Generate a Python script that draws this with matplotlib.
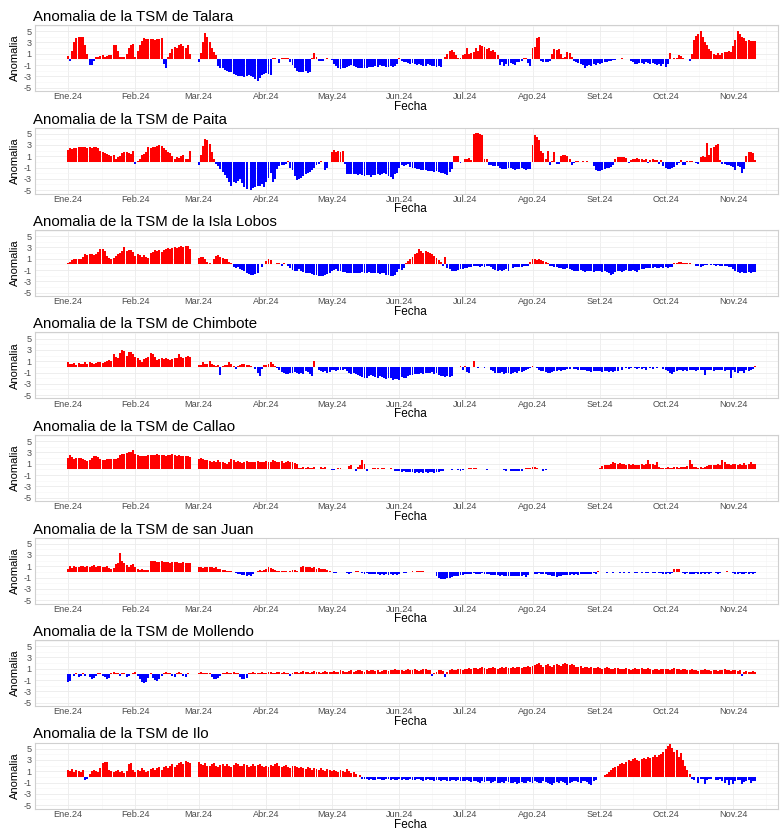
import numpy as np
import pandas as pd
import matplotlib
matplotlib.use("Agg")
import matplotlib.pyplot as plt

plt.rcParams["font.family"] = ["Liberation Sans", "DejaVu Sans"]

# fechas diarias y etiquetas de mes
fechas = pd.date_range("2024-01-01", "2024-11-11", freq="D")
meses = pd.date_range("2024-01-01", "2024-11-01", freq="MS")
etiquetas_mes = ["Ene.24", "Feb.24", "Mar.24", "Abr.24", "May.24", "Jun.24",
                 "Jul.24", "Ago.24", "Set.24", "Oct.24", "Nov.24"]
dias_mes = [31, 29, 31, 30, 31, 30, 31, 31, 30, 31, 11]
y_ticks = [5, 3, 1, -1, -3, -5]
y_labels = ["5", "3", "1", "-1", "-3", "-5"]

# anomalias diarias, un texto por mes ("." = sin dato)
talara = [
    "0.6 -0.3 1.5 3.0 3.8 4.0 4.0 3.9 2.5 1.0 -1.0 -1.0 -0.2 0.4 0.5 0.6 0.7 0.5 0.6 0.7 0.8 2.6 2.5 1.5 0.4 0.4 0.5 1.0 2.0 2.6 2.8",
    "0.5 1.5 2.5 3.3 3.8 3.6 3.7 3.7 3.7 3.5 3.7 3.6 3.8 -0.8 -1.6 0.5 1.2 1.8 2.2 2.0 2.5 2.8 2.3 2.1 2.5 1.0 . . .",
    "-0.4 1.2 3.0 4.6 4.0 3.0 2.0 1.3 0.8 -1.2 -1.5 -1.6 -1.8 -2.0 -2.2 -2.3 -2.5 -2.7 -2.9 -3.0 -3.0 -3.1 -3.0 -2.8 -2.9 -3.2 -3.5 -3.8 -3.3 -2.8 -2.5",
    "-2.4 -2.6 -2.8 0.2 0.2 0.1 -0.6 0.2 0.3 0.2 0.2 -0.5 -1.0 -1.5 -2.0 -2.3 -2.3 -2.2 -2.0 -2.4 -2.2 0.3 1.2 0.5 -0.3 -0.3 -0.2 . 0.3 .",
    "-0.1 -0.8 -1.2 -1.5 -1.7 -1.6 -1.5 -1.3 -1.1 -1.0 -1.2 -1.4 -1.5 -1.6 -1.5 -1.6 -1.5 -1.4 -1.3 -1.3 -1.2 -1.4 -1.0 -1.1 -1.2 -1.3 -1.3 -1.2 -1.3 -1.2 -0.9",
    "0.2 -0.3 -0.5 -0.4 -0.6 -0.8 -0.7 -0.9 -1.0 -0.8 -1.0 -1.1 -1.2 -0.9 -1.0 -1.1 -1.2 -1.3 -1.2 -1.3 . 0.5 1.0 1.5 1.6 1.3 0.8 0.2 0.3 0.8",
    "0.9 2.0 1.0 1.1 1.3 2.0 1.5 2.6 2.4 2.2 1.8 2.0 1.5 1.7 1.3 0.8 -1.0 -0.5 -1.1 -0.8 -1.2 -0.6 -0.9 -1.0 -0.4 -0.5 -0.3 0.3 0.2 -0.6 -1.2",
    "2.0 2.2 3.8 4.0 -0.3 -0.4 -0.4 -0.4 -0.3 1.0 1.9 1.6 1.8 0.9 0.2 0.5 1.3 1.2 0.4 -0.2 -0.5 -0.6 -0.8 -1.0 -1.5 -1.2 -1.0 -1.1 -0.9 -1.0 -0.7",
    "-0.8 -0.6 -0.5 -0.4 -0.3 -0.2 -0.1 -0.1 . 0.1 0.2 0.1 0.1 . -0.2 -0.5 -0.8 -0.9 -0.7 -0.6 -0.8 -0.5 -0.6 -0.8 -0.7 -0.9 -1.0 -0.8 -1.2 -0.9",
    "-1.3 -0.8 1.2 . 0.2 0.3 0.7 0.6 0.3 . . -0.2 1.0 3.5 4.2 4.5 5.0 4.0 3.0 2.5 1.8 1.5 1.0 0.8 1.2 0.8 1.2 1.4 1.3 1.5 1.4",
    "2.3 3.5 5.0 4.5 4.0 3.8 3.3 3.4 3.2 3.3 3.2",
]
paita = [
    "2.2 2.4 2.3 2.5 2.4 2.6 2.6 2.7 2.6 2.5 2.6 2.5 2.7 2.6 2.4 2.0 1.8 1.6 1.4 1.2 1.0 1.3 0.6 0.8 1.0 1.6 1.8 1.7 1.5 1.4 1.9",
    "-0.3 0.2 0.6 1.2 1.4 1.8 2.7 2.4 2.6 2.7 2.9 3.0 2.9 2.5 2.2 1.8 1.5 1.1 0.5 0.8 0.7 1.0 1.2 0.6 0.5 1.9 . . .",
    "-0.6 1.2 2.8 4.0 3.8 3.2 1.8 0.5 -0.4 -0.8 -1.2 -1.8 -2.3 -2.8 -3.6 -4.2 -3.5 -3.8 -3.3 -3.0 -3.8 -4.5 -4.8 . -4.9 -4.7 -4.5 -4.3 -4.2 -4.0 -4.4",
    "-3.5 -2.8 -2.0 -3.5 -3.0 -1.2 -0.8 -0.6 -0.5 -0.3 0.2 -1.0 -1.5 -2.5 -3.2 -3.0 -2.8 -2.5 -2.2 -2.0 -1.8 -1.5 -1.0 -0.5 -0.3 0.2 . -1.5 -1.0 .",
    "1.8 2.2 1.8 2.0 1.7 2.0 -0.3 -2.1 -2.1 -2.2 -2.1 -2.2 -2.3 -2.2 -2.4 -2.5 -2.3 -2.4 -2.6 -2.4 -2.3 -2.2 -2.3 -2.1 -2.0 -2.2 -2.5 -2.6 -3.0 -2.2 -2.0",
    "-1.0 -0.6 -0.8 -0.5 -0.4 -0.9 -1.0 -1.1 -1.2 -1.3 -1.4 -1.5 -1.5 -1.6 -1.6 -1.6 -1.7 -1.6 -1.8 -1.9 -2.0 -2.2 -2.3 -1.8 -1.2 1.1 1.0 1.1 -0.2 .",
    "0.6 0.5 0.7 0.4 5.0 5.1 5.1 5.0 4.8 0.6 0.5 -0.5 -0.6 -0.7 -0.8 -0.8 -1.0 -1.3 -1.2 -1.3 -1.1 -1.0 -1.2 -1.4 -1.3 -1.2 -1.1 -1.3 -1.4 -1.2 -1.3",
    "3.0 4.8 4.5 3.8 1.9 1.5 0.5 1.9 -0.6 0.1 1.7 -0.3 -0.4 1.0 1.2 1.2 1.1 0.6 -0.5 -0.2 0.2 0.1 -0.1 0.2 . 0.2 . . -0.8 -1.5 -1.6",
    "-1.6 -1.5 -1.2 -1.0 -1.1 -0.9 -0.6 0.5 0.9 0.9 0.8 0.9 0.7 -0.2 0.3 0.5 0.6 0.7 0.5 0.6 0.4 0.5 -0.2 0.4 0.5 0.3 0.3 -0.3 0.4 -0.8",
    "-1.0 -1.2 -1.3 -1.1 -0.9 -0.5 -0.2 0.3 -0.6 -0.5 0.2 0.1 0.2 . -0.2 -0.3 0.9 1.0 0.9 3.3 1.2 2.5 2.7 3.0 3.1 0.4 -0.3 -0.4 -0.5 -0.6 -0.8",
    "-0.9 -1.5 -0.8 -0.9 -1.9 -1.2 1.0 1.8 1.8 1.5 0.3",
]
isla_lobos = [
    "0.3 0.4 0.8 1.0 0.9 1.0 1.0 1.3 1.8 1.7 1.9 1.8 1.6 1.9 2.2 2.8 2.7 2.3 1.5 1.1 1.0 1.2 1.5 1.9 2.0 2.3 3.1 2.4 2.5 2.6 2.2",
    "1.5 1.8 1.6 1.4 1.6 1.3 1.1 2.0 2.2 2.5 2.4 2.5 2.2 2.6 2.8 2.9 2.8 2.9 3.0 2.9 3.1 3.2 3.0 3.3 3.3 2.8 . . .",
    "1.2 1.4 1.3 0.9 0.5 0.2 . 1.0 1.5 1.6 1.3 1.2 1.0 0.9 0.5 0.2 -0.5 -0.6 -0.4 -0.8 -1.0 -1.2 -1.5 -1.7 -1.8 -1.8 -1.7 -1.6 . -0.4 .",
    "0.6 0.9 0.8 . 0.1 0.3 0.2 -0.3 0.2 0.1 -0.3 -0.6 -1.0 -1.2 -1.1 -0.9 -1.1 -1.3 -1.5 -1.6 -1.6 -1.7 -1.8 -1.9 -2.0 -2.1 -2.1 -1.9 -1.7 -1.5",
    "-1.2 -1.0 -0.9 -1.1 -1.2 -1.3 -1.4 -1.5 -1.5 -1.6 -1.5 -1.5 -1.6 -1.5 -1.4 -1.5 -1.5 -1.4 -1.5 -1.6 -1.5 -1.6 -1.7 -1.6 -1.6 -1.8 -1.9 -2.0 -2.0 -1.9 -1.4",
    "-0.9 -1.0 -0.6 0.3 0.6 0.9 1.3 1.8 2.0 2.7 2.4 2.0 2.3 2.2 2.1 1.8 1.5 1.2 0.8 0.4 -0.2 1.3 -0.6 -0.9 -1.1 -1.2 -1.1 -1.0 -0.9 -0.8",
    "-0.7 -0.6 -0.5 -0.4 -0.3 -0.3 -0.3 -0.4 -0.3 -0.5 -0.3 -0.2 -0.4 -0.9 -1.0 -1.1 -1.0 -1.1 -1.0 -0.9 -1.1 . -0.6 -0.5 -0.4 -0.5 -0.4 -0.3 -0.2 -0.3 0.5",
    "0.9 1.0 0.8 0.9 0.7 0.6 0.4 0.2 -0.2 -0.3 -0.4 -0.5 -0.6 -0.7 -0.8 -0.8 -0.7 -0.9 -1.0 -1.1 -1.2 -1.1 -1.0 -1.2 -1.3 -1.2 -1.1 -1.2 -1.3 -1.1 -1.2",
    "-1.2 -1.3 -1.2 -1.4 -1.6 -1.8 -1.7 -1.3 -1.2 -1.1 -1.3 -1.2 -1.0 -1.1 -1.2 -1.0 -1.1 -1.3 -1.0 -0.9 -0.8 -0.7 -0.6 -0.6 -0.7 -0.5 -0.6 -0.6 -0.5 -0.6",
    "-0.5 -0.6 -0.5 -0.4 0.2 0.3 0.4 0.4 0.3 0.3 0.2 0.2 0.1 . -0.2 -0.3 -0.5 -0.3 -0.1 -0.1 0.1 -0.1 -0.1 -0.2 -0.1 -0.2 -0.2 -0.3 -0.3 -0.4 -0.4",
    "-0.8 -1.2 -1.3 -1.5 -1.4 -1.6 -1.5 -1.4 -1.5 -1.3 -1.4",
]
chimbote = [
    "0.9 0.6 0.5 0.7 0.4 0.7 0.5 0.5 0.8 0.6 0.9 0.7 0.6 0.7 0.9 0.8 0.7 0.9 1.0 1.2 1.0 2.2 1.8 1.6 2.5 3.0 2.9 2.0 2.7 2.6 2.2",
    "1.8 1.5 1.2 0.9 1.4 1.5 1.8 2.5 2.2 1.8 1.3 1.4 1.5 1.4 1.5 1.4 1.3 1.4 1.5 1.6 2.3 1.7 1.5 1.8 2.0 1.7 . . .",
    "0.3 0.3 0.9 0.5 0.6 1.0 0.5 0.3 0.2 0.3 -1.5 0.2 0.4 0.4 0.8 0.6 0.2 -0.3 0.1 0.4 0.5 0.5 0.4 0.3 0.1 -0.1 -0.4 -1.0 -1.7 -0.3 0.3",
    "0.4 0.6 0.8 0.5 0.1 -0.2 -0.6 -0.9 -1.1 -1.3 -1.2 -1.0 -1.1 -0.9 -1.0 -1.2 -1.1 -1.3 -0.8 -0.9 -1.2 -1.7 1.0 . -0.6 -0.8 -0.9 -0.8 -1.0 -0.9",
    "-0.5 -0.6 -0.7 -0.5 -0.6 -0.5 -0.4 -0.8 -1.0 -1.2 -1.1 -1.3 -1.5 -1.6 -1.8 -2.0 -1.9 -1.7 -1.5 -1.6 -1.8 -1.9 -1.7 -1.8 -2.0 -2.1 -1.9 -2.0 -2.3 -2.1 -2.2",
    "-2.3 -1.8 -2.0 -1.9 -1.6 -1.5 -1.4 -1.2 -1.3 -1.2 -1.1 -1.2 -1.0 -1.1 -1.0 -0.9 -1.2 -1.0 -1.4 -1.6 -1.7 -1.8 -1.7 -1.8 -1.6 . -0.1 . 0.2 -0.6",
    "0.2 -0.9 -1.0 . 1.0 . -0.2 -0.1 . -0.2 . . -0.5 -0.8 -1.0 -1.1 -1.0 -0.9 -1.2 -1.0 -1.1 -1.2 -1.1 -0.9 -1.0 -0.8 -0.9 -0.7 -0.6 -0.3 -0.2",
    "0.1 -0.1 -0.2 -0.5 -0.7 -0.8 -0.9 -1.0 -1.1 -0.9 -0.8 -0.7 -0.6 -0.7 -0.6 -0.5 -0.4 -0.3 . -0.3 -0.4 -0.5 -0.6 -0.5 -0.6 -0.7 -0.8 -0.9 -0.8 -0.7 -0.8",
    "-0.8 -0.9 -0.8 -0.7 -0.9 -0.8 -0.9 -0.7 -0.8 . -0.5 . -0.2 -0.3 -0.2 . -0.2 -0.3 -0.2 -0.3 -0.2 -0.5 . -0.2 -0.3 . -0.2 . . -0.3",
    "-0.6 -0.8 -1.0 -1.2 -0.9 -0.8 -0.5 -0.6 -0.7 -0.6 -0.7 -0.6 -0.5 -0.6 -0.7 -0.6 -0.5 -0.6 -1.4 -0.6 -0.5 -0.6 -0.7 -0.6 -0.5 -0.6 -0.5 -0.7 -0.6 -0.5 -2.0",
    "-0.6 -0.9 -1.0 -0.8 -0.7 -1.1 -0.6 -0.8 -0.5 -0.4 0.1",
]
callao = [
    "2.0 2.6 2.2 1.8 2.0 2.1 2.0 1.8 1.6 1.5 1.7 2.1 2.3 2.4 2.2 1.8 1.6 1.7 1.8 1.8 1.9 1.9 1.8 2.0 2.5 2.7 2.7 2.9 3.0 3.1 3.4",
    "2.7 2.5 2.4 2.3 2.3 2.4 2.5 2.5 2.6 2.6 2.7 2.6 2.5 2.6 2.4 2.5 2.6 2.7 2.6 2.4 2.5 2.3 2.4 2.3 2.4 2.2 . . .",
    "1.9 2.1 1.8 1.7 1.6 1.5 1.4 1.5 1.3 1.6 1.4 1.3 1.2 1.0 1.3 1.9 1.6 1.3 1.5 1.4 1.2 1.3 1.5 1.4 1.3 1.4 1.3 1.5 1.4 1.3 1.4",
    "1.5 1.3 1.4 1.6 1.5 1.3 1.4 1.5 1.2 1.4 1.5 1.3 1.4 1.2 1.0 0.3 0.2 0.4 0.2 0.5 0.3 0.2 0.4 0.1 . 0.4 0.3 0.4 . 0.1",
    "-0.1 -0.1 . 0.2 0.3 . 0.1 0.1 0.6 0.7 . -0.2 0.4 0.8 1.6 1.0 -0.2 . . 0.2 0.3 0.3 . 0.2 0.2 . . 0.2 . -0.2 -0.3",
    "-0.3 -0.4 -0.3 -0.4 -0.5 -0.4 -0.5 -0.6 -0.5 -0.6 -0.5 -0.6 -0.5 -0.6 -0.5 -0.4 -0.6 -0.5 -0.4 -0.3 -0.2 . 0.1 . -0.1 0.1 . -0.1 -0.2 -0.1",
    "0.1 . 0.3 0.3 0.2 0.3 0.1 . 0.1 . -0.1 0.1 . 0.1 0.1 . 0.1 . -0.1 -0.2 . -0.2 -0.3 -0.3 -0.2 -0.3 -0.2 0.1 0.2 0.3 0.3",
    "0.4 0.4 0.3 . . -0.2 -0.1 . 0.1 . 0.1 . 0.1 0.1 . . 0.1 . 0.1 0.1 . 0.1 0.1 . 0.1 . . 0.1 . . 0.1",
    "0.2 0.6 0.8 0.7 0.8 0.9 1.3 1.2 1.0 1.1 1.0 0.9 0.8 1.0 0.8 0.9 0.8 0.7 0.8 0.9 0.8 1.0 1.6 0.9 1.0 0.8 1.4 0.4 0.3 0.2",
    "0.3 0.4 0.3 0.3 0.4 0.5 0.3 0.4 0.5 0.4 0.6 1.6 0.9 0.5 0.4 0.3 0.4 0.3 0.5 0.6 0.7 0.8 0.7 0.8 0.9 0.8 1.7 1.3 1.0 0.9 0.8",
    "0.9 1.0 0.8 0.9 0.7 1.2 0.8 0.9 1.3 1.0 0.9",
]
san_juan = [
    "0.5 1.0 0.7 1.1 0.8 0.9 1.0 1.1 0.9 1.0 0.8 1.1 1.3 0.8 1.0 1.1 0.9 0.8 1.0 0.7 0.6 0.7 1.4 1.5 3.3 2.0 1.5 1.2 0.8 1.3 1.4",
    "0.8 0.5 0.4 0.6 0.3 0.3 0.4 1.9 2.0 1.9 1.8 1.7 1.9 1.8 1.7 1.8 1.6 1.7 1.8 1.7 1.5 1.6 1.7 1.6 1.5 1.6 . . .",
    "0.8 0.9 0.7 0.8 0.9 0.8 0.9 0.7 0.8 0.6 0.5 0.4 0.3 0.2 0.1 0.1 . -0.2 -0.3 -0.4 -0.5 -0.6 -0.7 -0.6 -0.7 -0.3 . 0.2 0.3 0.2 0.3",
    "0.6 0.8 0.7 0.5 0.3 0.2 0.2 0.1 0.2 0.1 . 0.1 0.3 0.3 0.2 . 0.8 1.0 0.9 0.8 0.9 0.7 0.8 0.6 0.7 0.6 0.5 0.6 0.3 0.1",
    "-0.1 -0.2 -0.2 . . . . -0.2 -0.3 -0.2 . 0.1 0.1 . -0.2 -0.3 -0.2 -0.3 -0.3 -0.4 -0.3 -0.4 -0.5 -0.4 -0.5 -0.4 -0.5 -0.4 -0.5 -0.4 -0.5",
    "-0.3 . -0.2 -0.2 -0.1 . 0.1 . 0.1 0.1 0.2 0.1 . . -0.1 . . -0.8 -1.1 -1.3 -1.2 -1.3 -1.1 -1.0 -0.9 -0.8 -0.7 -0.7 -0.6 -0.5",
    "-0.4 -0.3 -0.4 -0.3 -0.2 -0.3 -0.4 -0.3 -0.2 -0.3 -0.4 -0.3 -0.5 -0.6 -0.5 -0.6 -0.7 -0.6 -0.7 -0.8 -0.7 -0.8 -0.7 -0.8 -0.7 -0.8 -0.7 -0.6 -0.9 -0.6 .",
    "-0.1 -0.3 -0.3 -0.2 -0.3 -0.4 -0.3 -0.5 -0.6 -0.7 -0.8 -0.9 -0.8 -0.7 -0.6 -0.5 -0.6 -0.5 -0.4 -0.5 -0.4 -0.5 -0.4 -0.3 -0.4 -0.3 -0.4 -0.3 -0.2 -0.3 0.1",
    ". -0.1 -0.1 -0.2 -0.1 -0.1 -0.2 -0.1 -0.1 -0.2 -0.1 -0.2 -0.1 -0.2 -0.1 -0.1 -0.2 -0.2 -0.1 -0.2 -0.1 -0.2 -0.2 -0.1 -0.2 -0.2 -0.1 -0.2 -0.2 -0.3",
    "-0.3 -0.2 -0.3 -0.2 0.6 0.6 0.5 -0.1 -0.2 -0.3 -0.2 -0.3 -0.4 -0.3 -0.2 -0.3 -0.3 -0.2 -0.3 -0.2 -0.3 -0.2 -0.1 -0.2 -0.3 -0.2 -0.1 . 0.1 . .",
    "-0.2 -0.4 -0.3 -0.2 -0.4 -0.3 -0.2 -0.3 -0.2 -0.3 -0.2",
]
mollendo = [
    "-1.3 -1.2 . -0.3 0.2 -0.4 -0.2 0.3 -0.2 . -0.5 -0.8 -0.6 -0.3 0.2 0.3 -0.2 -0.5 -0.8 -0.7 0.3 0.4 0.2 0.3 -0.2 0.3 0.2 -0.5 -0.3 . 0.2",
    "0.4 -0.3 -0.8 -1.3 -1.5 -1.4 -0.6 0.2 -0.7 -1.0 -1.1 -0.9 -0.3 0.3 0.4 0.3 0.2 -0.2 -0.5 0.3 0.4 0.2 -0.3 -0.4 0.3 . . . .",
    "0.3 0.4 0.2 0.3 0.2 0.3 -0.5 -0.8 -0.9 -0.6 -0.3 0.2 0.3 0.4 0.2 0.3 0.4 0.3 0.2 -0.4 -0.8 -0.9 -0.7 0.2 0.3 0.4 0.3 0.2 0.3 0.4 0.3",
    "0.3 0.4 0.5 0.3 0.2 0.4 0.5 0.3 0.4 0.3 0.2 -0.2 0.3 0.4 0.5 0.3 0.4 0.6 0.5 0.4 0.3 0.5 0.6 0.4 0.5 0.3 0.4 0.6 0.5 0.4",
    "0.5 0.6 0.4 0.5 0.7 0.6 0.5 0.4 0.6 0.7 0.5 0.6 0.8 0.7 0.6 0.5 0.7 0.6 0.8 0.7 0.6 0.7 0.5 0.6 0.8 0.7 0.6 0.8 0.7 0.9 0.8",
    "0.7 0.8 0.6 0.7 0.9 0.8 0.7 0.9 0.8 0.6 0.7 0.9 1.0 0.8 0.7 -0.3 0.2 0.5 0.7 0.8 0.6 -0.5 0.4 0.7 0.9 0.8 0.7 1.0 0.9 0.8",
    "1.0 0.9 1.1 1.0 1.2 1.1 1.0 1.2 1.3 1.1 1.0 1.2 1.1 1.3 1.2 1.0 1.1 1.3 1.2 1.4 1.2 1.1 1.3 1.2 1.4 1.3 1.2 1.4 1.3 1.5 1.4",
    "1.5 1.7 1.9 2.0 1.6 1.4 1.7 1.8 1.5 1.3 1.6 1.9 1.7 1.5 1.8 2.0 1.8 1.6 1.9 1.7 1.4 1.3 1.5 1.2 1.4 1.3 1.2 1.4 1.1 1.2 1.3",
    "1.2 1.0 1.1 1.3 1.1 1.0 0.9 1.1 1.2 1.0 0.9 1.0 1.1 0.9 0.8 1.0 1.1 0.9 1.0 1.2 1.0 0.9 1.1 1.0 0.8 0.9 1.0 0.8 0.9 1.0",
    "0.9 1.0 0.8 0.9 1.1 1.0 0.9 0.8 1.0 0.9 0.7 0.8 0.9 0.7 0.8 0.6 0.8 0.7 0.9 0.8 0.7 0.6 0.8 0.7 0.6 0.8 0.7 0.9 0.8 0.7 0.6",
    "0.7 0.8 0.6 0.7 -0.3 0.5 0.6 0.4 0.5 0.6 0.5",
]
ilo = [
    "1.2 1.0 1.4 0.9 1.3 1.1 0.8 1.2 -0.5 -0.3 0.5 1.0 1.3 1.0 0.8 1.5 2.5 2.7 2.6 1.2 1.0 0.8 1.1 1.3 0.9 1.0 0.7 1.1 2.2 2.4 1.2",
    "0.8 1.2 1.0 1.5 1.3 0.9 1.1 1.4 1.6 1.2 1.5 1.8 1.3 1.7 2.0 1.6 1.9 2.2 1.8 2.1 2.4 2.6 2.3 2.8 2.7 2.5 . . .",
    "2.6 2.3 2.1 2.4 2.0 1.9 2.2 2.5 2.0 1.8 2.1 2.3 1.9 2.2 2.0 1.8 2.1 2.4 2.2 1.9 2.0 2.3 2.1 1.8 2.0 2.2 1.9 2.1 2.3 2.0 1.8",
    "2.0 1.8 2.1 1.9 2.2 2.4 2.0 1.7 1.9 2.1 1.8 1.6 1.9 2.0 1.7 1.5 1.8 1.6 1.4 1.7 1.5 1.3 1.6 1.4 1.2 1.5 1.3 1.1 1.4 1.2",
    "1.0 1.3 1.1 0.8 1.2 1.0 0.9 1.4 1.1 0.7 0.9 0.5 . 0.3 -0.3 -0.4 -0.3 -0.5 -0.4 -0.6 -0.5 -0.4 -0.3 -0.5 -0.6 -0.4 -0.3 -0.5 -0.4 -0.6 -0.5",
    "-0.4 -0.5 -0.3 -0.6 -0.5 -0.4 -0.6 -0.5 -0.3 -0.4 -0.5 -0.7 -0.6 -0.4 -0.5 -0.6 -0.8 -0.6 -0.5 -0.7 -0.6 -0.5 -0.7 -0.8 -0.6 -0.5 -0.7 -0.6 -0.8 -0.7",
    "-0.8 -0.6 -0.7 -0.9 -0.8 -0.7 -0.9 -1.0 -0.8 -0.9 -0.7 -0.8 -1.0 -0.9 -0.8 -1.0 -1.1 -0.9 -1.0 -0.8 -0.9 -1.1 -1.0 -0.9 -1.2 -1.0 -0.9 -1.1 -1.0 -0.8 -0.9",
    "-1.0 -0.8 -0.9 -1.1 -1.0 -0.8 -0.9 -1.0 -1.2 -1.5 -1.1 -0.9 -1.0 -0.8 -0.9 -1.1 -1.4 -1.0 -0.9 -0.8 -0.7 -0.9 -1.0 -0.8 -0.7 -0.9 -1.2 -1.5 -0.8 -0.6 .",
    ". . 0.3 0.6 0.9 1.2 1.5 1.8 2.0 2.3 2.5 2.2 2.7 3.0 2.8 3.1 3.3 3.0 2.9 3.2 3.4 3.1 3.5 3.3 3.6 3.9 3.5 3.8 4.1 4.5",
    "5.0 5.5 5.8 5.2 4.5 4.8 3.5 4.2 3.0 2.0 1.2 0.5 -0.3 -0.6 . -1.0 -0.4 -0.3 -1.2 -0.5 -0.4 -0.3 . -0.6 -0.5 -0.4 -0.7 -1.0 -0.5 -1.5 -0.6",
    "-1.3 -0.8 -0.5 -0.6 -1.2 -0.9 -0.7 -0.5 -1.0 -0.8 -0.7",
]

estaciones = [
    ("Anomalia de la TSM de Talara", talara),
    ("Anomalia de la TSM de Paita", paita),
    ("Anomalia de la TSM de la Isla Lobos", isla_lobos),
    ("Anomalia de la TSM de Chimbote", chimbote),
    ("Anomalia de la TSM de Callao", callao),
    ("Anomalia de la TSM de san Juan", san_juan),
    ("Anomalia de la TSM de Mollendo", mollendo),
    ("Anomalia de la TSM de Ilo", ilo),
]


def serie(textos):
    vals = []
    for txt, n in zip(textos, dias_mes):
        v = [np.nan if t == "." else float(t) for t in txt.split()]
        vals += (v + [np.nan] * n)[:n]
    return np.array(vals)


W, H = 780, 833
fig = plt.figure(figsize=(W / 100, H / 100), dpi=100)

x0 = pd.Timestamp("2024-01-01")
minor_x = [meses[k] + (meses[k + 1] - meses[k]) / 2 for k in range(len(meses) - 1)]
minor_x.append(meses[-1] + pd.Timedelta(days=15))

for i, (titulo, datos) in enumerate(estaciones):
    top = 25 + 102.5 * i
    alto = 66
    ax = fig.add_axes([35 / W, 1 - (top + alto) / H, 743 / W, alto / H])
    vals = serie(datos)
    ok = ~np.isnan(vals)
    colores = np.where(vals[ok] >= 0, "#FF0000", "#0000FF")
    ax.bar(fechas[ok], vals[ok], width=0.9, color=colores, linewidth=0, zorder=3)

    ax.set_xlim(x0 - pd.Timedelta(days=15), x0 + pd.Timedelta(days=325.5))
    ax.set_ylim(-5.6, 6.1)
    ax.set_xticks(meses)
    ax.set_xticklabels(etiquetas_mes)
    ax.set_xticks(minor_x, minor=True)
    ax.set_yticks(y_ticks)
    ax.set_yticklabels(y_labels)
    ax.set_yticks([6, 4, 2, 0, -2, -4], minor=True)
    ax.grid(True, which="major", color="#ebebeb", linewidth=0.6, zorder=0)
    ax.grid(True, which="minor", color="#f5f5f5", linewidth=0.4, zorder=0)
    ax.set_axisbelow(True)
    ax.tick_params(which="both", length=0, labelsize=6.6, labelcolor="#4d4d4d")
    ax.tick_params(axis="x", pad=0.8)
    ax.tick_params(axis="y", pad=2.5)
    for s in ax.spines.values():
        s.set_color("#d0d0d0")
        s.set_linewidth(0.8)

    fig.text(33 / W, 1 - (top - 4) / H, titulo, fontsize=10.8, va="baseline", ha="left")
    fig.text(15 / W, 1 - (top + alto / 2) / H, "Anomalia", fontsize=8, rotation=90,
             va="center", ha="center")
    fig.text(410 / W, 1 - (top + alto + 16) / H, "Fecha", fontsize=8.5, va="center", ha="center")

fig.savefig("out.png", dpi=100)
